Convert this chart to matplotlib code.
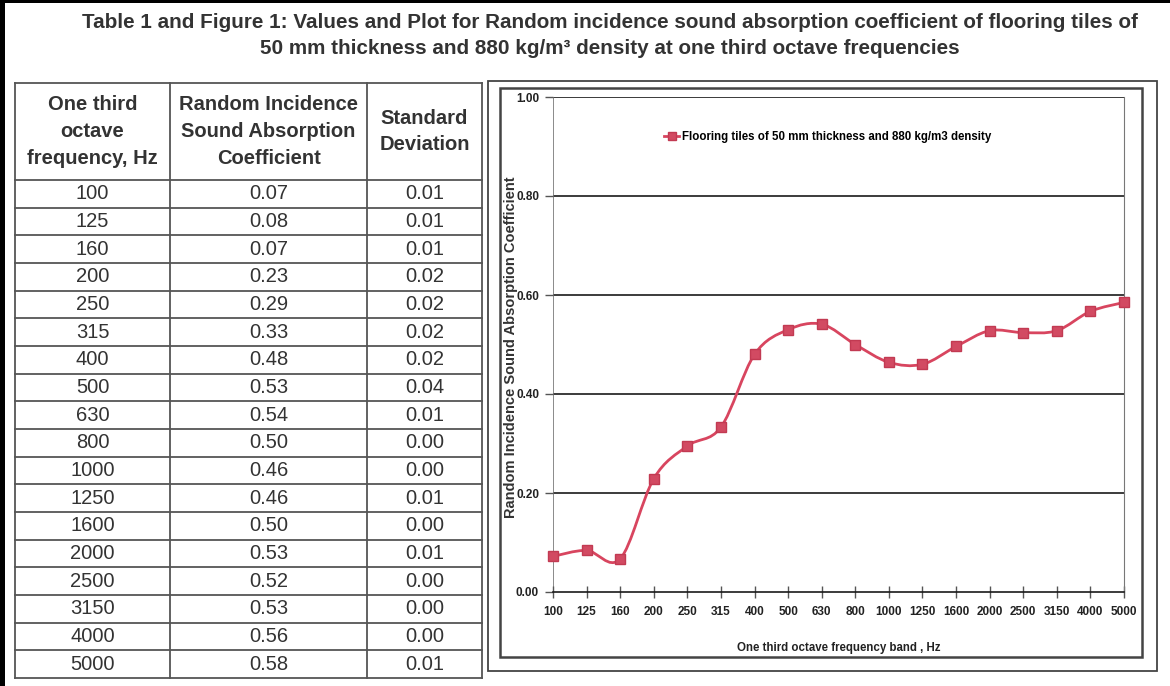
import numpy as np
import matplotlib
matplotlib.use("Agg")
import matplotlib.pyplot as plt
from matplotlib.lines import Line2D
from matplotlib.path import Path
from matplotlib.patches import PathPatch, Rectangle

# table / chart data
freqs = ["100", "125", "160", "200", "250", "315", "400", "500", "630", "800",
         "1000", "1250", "1600", "2000", "2500", "3150", "4000", "5000"]
coef = ["0.07", "0.08", "0.07", "0.23", "0.29", "0.33", "0.48", "0.53", "0.54",
        "0.50", "0.46", "0.46", "0.50", "0.53", "0.52", "0.53", "0.56", "0.58"]
std_dev = ["0.01", "0.01", "0.01", "0.02", "0.02", "0.02", "0.02", "0.04", "0.01",
           "0.00", "0.00", "0.01", "0.00", "0.01", "0.00", "0.00", "0.00", "0.01"]
# values
coef_plot = [0.072, 0.084, 0.067, 0.229, 0.295, 0.333, 0.480, 0.530, 0.541,
             0.500, 0.464, 0.460, 0.496, 0.528, 0.524, 0.528, 0.567, 0.585]
y_ticks = [0.0, 0.2, 0.4, 0.6, 0.8, 1.0]

W, H = 1170, 686
fig = plt.figure(figsize=(W / 100, H / 100), dpi=100)

# background axes in pixel units for the frame, title and table
bg = fig.add_axes([0, 0, 1, 1])
bg.set_xlim(0, W)
bg.set_ylim(H, 0)
bg.axis("off")

bold = dict(family="Liberation Sans", fontweight="bold")
narrow = ["Liberation Sans Narrow", "Liberation Sans"]

# black page frame
bg.add_patch(Rectangle((0, 0), 5, H, color="black", lw=0))
bg.add_patch(Rectangle((0, 0), W, 3, color="black", lw=0))

# title
bg.text(610, 23, "Table 1 and Figure 1: Values and Plot for Random incidence sound "
        "absorption coefficient of flooring tiles of", ha="center", va="center",
        fontsize=14.9, color="#333333", **bold)
bg.text(610, 49, "50 mm thickness and 880 kg/m³ density at one third octave frequencies",
        ha="center", va="center", fontsize=14.9, color="#333333", **bold)

# table grid
col_x = [15, 170, 367, 482]
top, head_bot, bot = 83, 180, 678
row_h = (bot - head_bot) / len(freqs)
lc = "#555555"
for x in col_x:
    bg.plot([x, x], [top, bot], color=lc, lw=1.3)
bg.plot([col_x[0], col_x[-1]], [top, top], color=lc, lw=1.3)
for i in range(len(freqs) + 1):
    y = head_bot + i * row_h
    bg.plot([col_x[0], col_x[-1]], [y, y], color=lc, lw=1.3)

centers = [(col_x[i] + col_x[i + 1]) / 2 for i in range(3)]
headers = [["One third", "octave", "frequency, Hz"],
           ["Random Incidence", "Sound Absorption", "Coefficient"],
           ["Standard", "Deviation"]]
for cx, lines in zip(centers, headers):
    y0 = (top + head_bot) / 2 - (len(lines) - 1) * 27 / 2
    for k, t in enumerate(lines):
        bg.text(cx, y0 + k * 27, t, ha="center", va="center", fontsize=14.5,
                color="#333333", **bold)
for i in range(len(freqs)):
    y = head_bot + (i + 0.5) * row_h
    for cx, col in zip(centers, [freqs, coef, std_dev]):
        bg.text(cx, y, col[i], ha="center", va="center", fontsize=14.5,
                color="#333333", family="Liberation Sans")

# chart frames
bg.add_patch(Rectangle((488, 81), 1157 - 488, 671 - 81, fill=False, ec="#444444", lw=1.3))
bg.add_patch(Rectangle((500, 88), 1142 - 500, 657 - 88, fill=False, ec="#444444", lw=1.8))

# chart axes
L, R, T, B = 553, 1124, 97, 592
ax = fig.add_axes([L / W, 1 - B / H, (R - L) / W, (B - T) / H])
ax.set_facecolor("white")
n = len(freqs)
xs = np.arange(n)
ys = np.array(coef_plot)
ax.set_xlim(0, n - 1)
ax.set_ylim(0, 1.0)

for v in y_ticks[1:]:
    ax.axhline(v, color="#1a1a1a", lw=1.2, zorder=1)
for s in ["top", "left"]:
    ax.spines[s].set_visible(False)
ax.spines["right"].set_color("#777777")
ax.spines["bottom"].set_color("#1a1a1a")
ax.spines["bottom"].set_linewidth(1.2)
ax.axvline(0, color="#777777", lw=1.2, zorder=1)

# smoothed line (Excel-style bezier through the points)
red = "#d8455f"
verts = [(xs[0], ys[0])]
codes = [Path.MOVETO]
for i in range(n - 1):
    p0 = max(i - 1, 0)
    p3 = min(i + 2, n - 1)
    c1 = (xs[i] + (xs[i + 1] - xs[p0]) / 6, ys[i] + (ys[i + 1] - ys[p0]) / 6)
    c2 = (xs[i + 1] - (xs[p3] - xs[i]) / 6, ys[i + 1] - (ys[p3] - ys[i]) / 6)
    verts += [c1, c2, (xs[i + 1], ys[i + 1])]
    codes += [Path.CURVE4] * 3
ax.add_patch(PathPatch(Path(verts, codes), fill=False, ec=red, lw=2, zorder=3))
ax.plot(xs, ys, ls="none", marker="s", ms=6.5, mfc="#d24a62", mec="#c23a52",
        clip_on=False, zorder=4)

ax.set_yticks(y_ticks)
ax.set_yticklabels([f"{v:.2f}" for v in y_ticks])
ax.set_xticks(xs)
ax.set_xticklabels(freqs)
ax.tick_params(axis="y", direction="out", length=6, width=1, color="#555555", pad=4)
ax.tick_params(axis="x", direction="inout", length=8, width=1, color="#555555", pad=6)
for lab in ax.get_xticklabels() + ax.get_yticklabels():
    lab.set_family(narrow)
    lab.set_fontweight("bold")
    lab.set_fontsize(8.5)
    lab.set_color("#222222")

ax.set_xlabel("One third octave frequency band , Hz", family=narrow, fontweight="bold",
              fontsize=8.3, color="#222222", labelpad=17)
fig.text(511 / W, 1 - 347 / H, "Random Incidence Sound Absorption Coefficient",
         rotation=90, ha="center", va="center", fontsize=10.5, color="#333333", **bold)

handle = Line2D([], [], color=red, lw=2, marker="s", ms=6, mfc="#d24a62", mec="#c23a52")
ax.legend([handle], ["Flooring tiles of 50 mm thickness and 880 kg/m3 density"],
          loc="center left", bbox_to_anchor=(0.185, 0.92), frameon=False,
          handlelength=1.3, handletextpad=0.2, borderpad=0,
          prop=dict(family=narrow, weight="bold", size=8.3))

fig.savefig("out.png", dpi=100)
